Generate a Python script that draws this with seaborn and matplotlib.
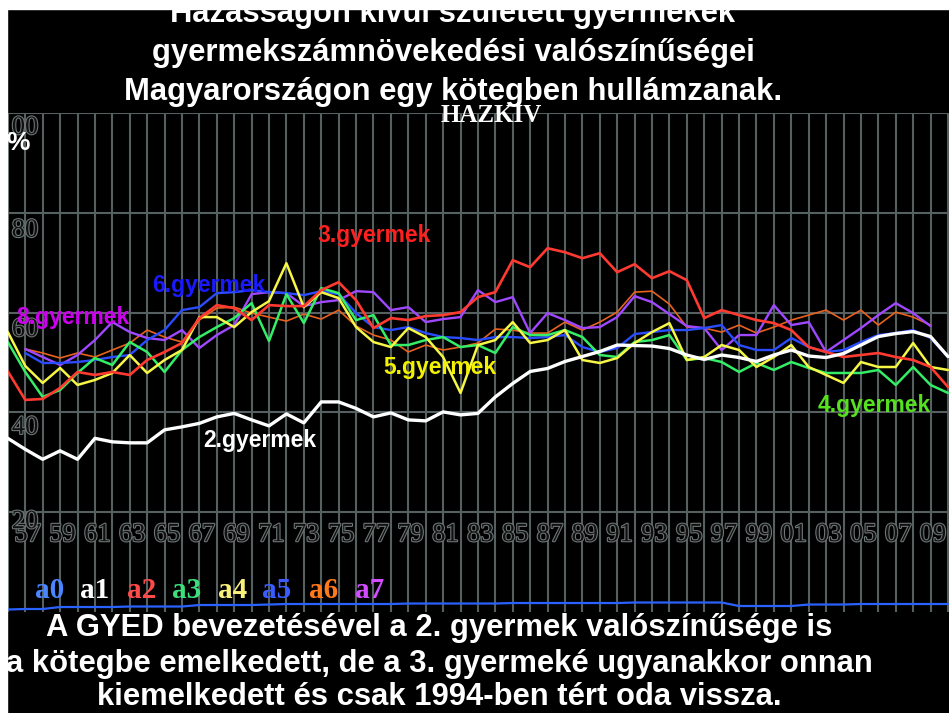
import pandas as pd
import matplotlib.pyplot as plt
import matplotlib.patheffects as pe
from matplotlib.patches import Rectangle
import seaborn as sns

# Évek (1956-2010)
years = list(range(1956, 2011))

# a0 - alsó kék vonal
a0 = [0.5, 0.6, 0.6, 1.0, 1.0, 1.0, 1.0, 1.1, 1.1, 1.1, 1.1, 1.4, 1.4, 1.4, 1.4,
      1.5, 1.6, 1.6, 1.6, 1.6, 1.6, 1.6, 1.6, 1.7, 1.7, 1.7, 1.7, 1.7, 1.7, 1.8,
      1.8, 1.8, 1.8, 1.8, 1.8, 1.8, 1.9, 1.9, 1.9, 1.9, 1.9, 1.9, 1.2, 1.2, 1.2,
      1.2, 1.5, 1.5, 1.5, 1.6, 1.6, 1.6, 1.6, 1.6, 1.6]

# a1 - 2. gyermek (fehér)
a1 = [34.8, 32.6, 30.6, 32.3, 30.6, 34.8, 34.1, 33.9, 33.9, 36.5,
      37.1, 37.8, 39.1, 39.8, 38.5, 37.3, 39.7, 37.9, 42.1, 42.1,
      40.8, 39.1, 39.9, 38.5, 38.3, 40.1, 39.5, 39.8, 43.1, 45.8,
      48.2, 48.8, 50.2, 51.2, 52.2, 53.5, 53.4, 53.3, 52.8, 51.5,
      50.6, 51.5, 51.0, 50.2, 51.5, 52.5, 51.3, 51.0, 51.8, 53.5,
      55.2, 55.8, 56.2, 55.2, 51.2]

# a2 - 3. gyermek (piros)
a2 = [48.2, 42.5, 42.7, 44.9, 48.1, 47.5, 48.1, 47.5, 50.5, 52.1,
      53.9, 58.9, 61.5, 60.9, 58.5, 61.5, 61.3, 61.3, 64.5, 66.1,
      62.5, 56.9, 58.9, 58.5, 59.3, 59.5, 60.1, 63.1, 64.1, 70.5,
      69.1, 72.9, 72.1, 70.9, 71.9, 68.1, 69.7, 66.9, 68.3, 66.5,
      58.9, 60.5, 59.5, 58.5, 57.9, 56.5, 53.1, 52.1, 51.1, 51.5,
      51.9, 51.1, 50.5, 49.1, 45.1]

# a3 - 4. gyermek (zöld)
a3 = [54.1, 48.1, 43.1, 44.5, 47.9, 50.9, 49.5, 54.1, 52.1, 48.1,
      52.5, 55.1, 57.1, 58.9, 61.9, 54.3, 63.7, 57.9, 64.9, 63.9,
      58.5, 59.5, 53.5, 53.5, 54.5, 55.1, 53.1, 53.5, 51.9, 57.1,
      55.5, 55.5, 56.5, 55.1, 51.5, 51.1, 54.1, 54.5, 55.5, 50.5,
      50.9, 50.1, 48.1, 49.9, 48.5, 50.1, 48.9, 47.9, 47.9, 47.9,
      48.5, 45.5, 49.1, 45.5, 43.9]

# a4 - 5. gyermek (sárga)
a4 = [56.1, 49.3, 45.9, 48.9, 45.5, 46.5, 47.9, 51.5, 47.9, 50.5,
      52.5, 59.1, 59.1, 57.1, 60.1, 62.3, 69.9, 61.1, 64.1, 62.9,
      57.1, 54.1, 53.1, 56.9, 55.1, 51.1, 43.9, 53.5, 54.5, 58.1,
      53.9, 54.5, 56.5, 50.5, 49.9, 50.9, 53.9, 56.1, 57.9, 50.5,
      51.1, 53.5, 52.5, 49.1, 51.1, 53.5, 49.1, 47.5, 45.9, 50.1,
      49.1, 49.1, 53.9, 49.1, 48.5]

# a5 - 6. gyermek (kék)
a5 = [None, 51.9, 49.9, 49.9, 50.1, 50.5, 51.1, 51.5, 54.5, 56.5,
      60.5, 61.1, 63.9, 64.1, 64.5, 64.1, 63.9, 63.5, 64.3, 63.7,
      59.9, 57.1, 56.5, 57.1, 55.9, 55.1, 54.9, 54.5, 55.1, 55.1,
      54.9, 55.1, 55.5, 53.1, 52.1, 52.9, 55.7, 56.1, 56.5, 56.5,
      56.9, 57.5, 53.5, 52.5, 52.5, 54.9, 53.1, 52.1, 52.5, 54.1,
      55.5, 55.9, 56.5, 54.9, 51.1]

# a6 - 7. gyermek (narancs)
a6 = [None, 52.7, 51.9, 50.9, 51.9, 51.1, 52.5, 53.9, 56.5, 55.1,
      54.1, 58.5, 60.9, 61.1, 59.9, 59.1, 58.3, 59.7, 58.7, 60.5,
      57.3, 55.5, 54.5, 52.1, 53.5, 52.5, 53.1, 53.9, 56.7, 56.5,
      55.9, 55.9, 58.1, 56.5, 58.1, 60.1, 64.1, 64.3, 61.7, 57.1,
      56.9, 56.1, 57.5, 55.9, 57.1, 58.5, 59.5, 60.5, 58.5, 60.5,
      57.5, 60.1, 59.1, 57.5, None]

# a7 - 8. gyermek (lila)
a7 = [None, 52.7, 51.1, 49.5, 51.5, 54.5, 58.1, 56.1, 54.9, 54.5,
      56.5, 52.9, 55.5, 57.5, 63.7, 64.1, 63.9, 61.3, 62.1, 62.5,
      64.3, 64.1, 60.5, 61.1, 58.1, 58.7, 59.1, 64.5, 62.1, 63.1,
      55.9, 59.9, 58.5, 56.9, 57.1, 59.1, 63.3, 62.1, 59.7, 57.3,
      56.9, 52.5, 55.5, 55.5, 61.5, 57.5, 58.1, 52.1, 54.5, 56.9,
      59.5, 61.9, 59.9, 57.3, None]

sor_nevek = ['a0', 'a1', 'a2', 'a3', 'a4', 'a5', 'a6', 'a7']
szinek = {'a0': '#2a62ff', 'a1': '#ffffff', 'a2': '#ff3a30', 'a3': '#33ee66',
          'a4': '#f6f646', 'a5': '#2a4cff', 'a6': '#e8621e', 'a7': '#a048ff'}
vastag = {'a0': 1.6, 'a1': 2.4, 'a2': 1.9, 'a3': 1.8, 'a4': 1.8,
          'a5': 1.7, 'a6': 1.2, 'a7': 1.7}
rajz_sorrend = ['a0', 'a6', 'a7', 'a5', 'a3', 'a4', 'a2', 'a1']
legend_szinek = {'a0': '#4a86ff', 'a1': '#ffffff', 'a2': '#ff4a4a', 'a3': '#3ddf7a',
                 'a4': '#f7f07a', 'a5': '#3a5cff', 'a6': '#ff7a1a', 'a7': '#d24dff'}

df = pd.DataFrame({'ev': years, 'a0': a0, 'a1': a1, 'a2': a2, 'a3': a3,
                   'a4': a4, 'a5': a5, 'a6': a6, 'a7': a7})
df_long = df.melt(id_vars='ev', var_name='sor', value_name='ertek').dropna()

sns.set_theme(style='dark', rc={'axes.facecolor': 'black', 'figure.facecolor': 'black'})
plt.rcParams['font.family'] = ['Liberation Sans', 'DejaVu Sans']

fig = plt.figure(figsize=(9.49, 7.13), dpi=100)
ax = fig.add_axes([7 / 949, 101 / 713, 942 / 949, 499 / 713])
ax.set_facecolor('black')

for nev in rajz_sorrend:
    sns.lineplot(data=df_long[df_long['sor'] == nev], x='ev', y='ertek',
                 color=szinek[nev], linewidth=vastag[nev], ax=ax, legend=False)

ax.set_xlim(1955.95, 2010.06)
ax.set_ylim(0, 100)
ax.set_xticks(years)
ax.set_yticks([20, 40, 60, 80, 100])
ax.grid(True, color='#566060', linewidth=1.5)
ax.set_axisbelow(True)
ax.tick_params(labelbottom=False, labelleft=False, length=0)
ax.set_xlabel('')
ax.set_ylabel('')
for s in ax.spines.values():
    s.set_visible(False)

# üreges szürke számok
ures = [pe.withStroke(linewidth=1.6, foreground='#6d7575')]
for yr in range(1957, 2010, 2):
    ax.text(yr + 0.14, 15.4, f'{yr % 100:02d}', ha='center', va='center',
            fontsize=19, family='Liberation Serif', color='#111111', path_effects=ures)
for cimke, v in [('100', 97.0), ('80', 76.4), ('60', 56.5), ('40', 36.9), ('20', 18.0)]:
    ax.text(1957.74, v, cimke, ha='right', va='center', fontsize=19,
            family='Liberation Serif', color='#111111', path_effects=ures, clip_on=True)

# jelmagyarázat szövegként
legend_x = [1958.42, 1960.96, 1963.71, 1966.24, 1968.88, 1971.46, 1974.16, 1976.8]
for nev, x in zip(sor_nevek, legend_x):
    ax.text(x, 4.4, nev, ha='center', va='center', fontsize=21, fontweight='bold',
            family='Liberation Serif', color=legend_szinek[nev])

# sorok feliratai
feliratok = [('3.gyermek', 1973.76, 75.4, '#ff2020'),
             ('6.gyermek', 1964.29, 65.5, '#1a1aff'),
             ('8.gyermek', 1956.47, 59.1, '#cc00ee'),
             ('5.gyermek', 1977.55, 48.9, '#f2f200'),
             ('2.gyermek', 1967.21, 34.3, '#ffffff'),
             ('4.gyermek', 2002.54, 41.3, '#55e020')]
for szoveg, x, y, szin in feliratok:
    ax.text(x, y, szoveg, ha='left', va='center', fontsize=16.5,
            fontweight='bold', color=szin)

# cím és alsó szöveg
cim = ['Házasságon kívül született gyermekek',
       'gyermekszámnövekedési valószínűségei',
       'Magyarországon egy kötegben hullámzanak.']
for sor, y in zip(cim, [14, 53, 92]):
    fig.text(453 / 949, 1 - y / 713, sor, ha='center', va='center',
             fontsize=22.3, fontweight='bold', color='white')

also = ['A GYED bevezetésével a 2. gyermek valószínűsége is',
        'a kötegbe emelkedett, de a 3. gyermeké ugyanakkor onnan',
        'kiemelkedett és csak 1994-ben tért oda vissza.']
for sor, y in zip(also, [628, 664, 697]):
    fig.text(439 / 949, 1 - y / 713, sor, ha='center', va='center',
             fontsize=22.3, fontweight='bold', color='white')

fig.text(18 / 949, 1 - 143 / 713, '%', ha='center', va='center',
         fontsize=19, fontweight='bold', color='white')
fig.text(491 / 949, 1 - 116 / 713, 'HAZKIV', ha='center', va='center',
         fontsize=18, fontweight='bold', family='Liberation Serif', color='white')

# fehér szegély bal és felső oldalon
fig.add_artist(Rectangle((0, 0), 7 / 949, 1, transform=fig.transFigure,
                         color='white', zorder=20))
fig.add_artist(Rectangle((0, 1 - 9 / 713), 1, 9 / 713, transform=fig.transFigure,
                         color='white', zorder=20))

fig.savefig('out.png', dpi=100, facecolor='black')
